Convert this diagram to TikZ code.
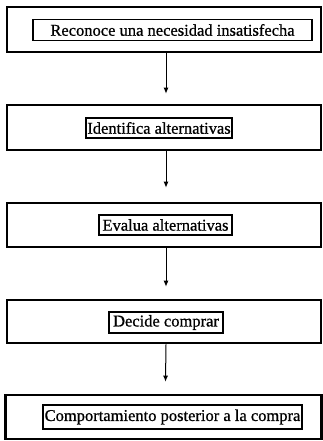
\documentclass[tikz,border=0pt]{standalone}
\usepackage{fontspec}
\setmainfont{Liberation Serif}
\newfontfamily\boxfont[FakeBold=0.8]{Liberation Serif}
\usetikzlibrary{arrows.meta}
\tikzset{
  outerbox/.style={draw=black, line width=2.6pt, minimum width=314pt, inner sep=0pt},
  innerbox/.style={draw=black, line width=1.2pt, inner sep=0pt, font=\boxfont\fontsize{16.5}{18}\selectfont},
  arr/.style={draw=black, line width=1pt, -{Latex[length=6pt,width=5pt]}}
}
\begin{document}
\begin{tikzpicture}[x=1pt,y=-1pt]
\useasboundingbox (0,0) rectangle (323,441);
% outer boxes
\node[outerbox, minimum height=45pt] (o1) at (164,29.5) {};
\node[outerbox, minimum height=45pt] (o2) at (164,127.5) {};
\node[outerbox, minimum height=44pt] (o3) at (164,225) {};
\node[outerbox, minimum height=43pt] (o4) at (164,321.5) {};
\node[outerbox, minimum height=44pt, minimum width=316pt] (o5) at (163.5,417) {};
% inner boxes
\node[innerbox, minimum width=279pt, minimum height=21pt] (i1) at (172.5,30) {Reconoce una necesidad insatisfecha};
\node[innerbox, minimum width=146pt, minimum height=20pt] (i2) at (159,128) {Identifica alternativas};
\node[innerbox, minimum width=133pt, minimum height=20pt] (i3) at (165.5,225) {Evalua alternativas};
\node[innerbox, minimum width=114pt, minimum height=21pt] (i4) at (166,322.5) {Decide comprar};
\node[innerbox, minimum width=259pt, minimum height=24pt] (i5) at (172.5,417) {Comportamiento posterior a la compra};
% arrows
\draw[arr] ([xshift=2pt]o1.south) -- ([xshift=2pt,yshift=10pt]o2.north);
\draw[arr] ([xshift=2pt]o2.south) -- ([xshift=2pt,yshift=14pt]o3.north);
\draw[arr] ([xshift=2pt]o3.south) -- ([xshift=2pt,yshift=12pt]o4.north);
\draw[arr] ([xshift=2pt]o4.south) -- ([xshift=2pt,yshift=12pt]o5.north);
\end{tikzpicture}
\end{document}
